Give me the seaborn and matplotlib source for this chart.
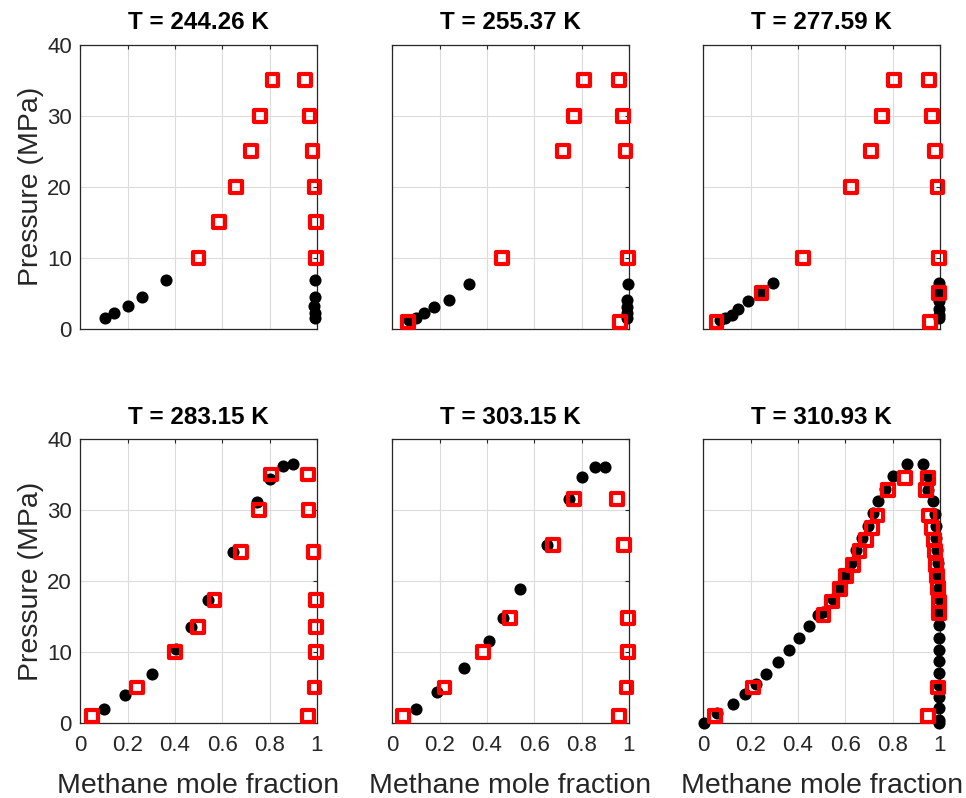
import numpy as np
import pandas as pd
import matplotlib
matplotlib.use("Agg")
import matplotlib.pyplot as plt
import seaborn as sns

# temperatures (K) of the six panels
temps = ["244.26", "255.37", "277.59", "283.15", "303.15", "310.93"]

# black circles (x = methane mole fraction, p = pressure MPa)
c1_x = [0.106, 0.141, 0.204, 0.263, 0.363, 0.993, 0.993, 0.986, 0.993, 0.993]
c1_p = [1.55, 2.25, 3.2, 4.46, 6.85, 6.85, 4.46, 3.2, 2.25, 1.55]
c2_x = [0.070, 0.099, 0.134, 0.176, 0.239, 0.324, 0.995, 0.993, 0.993, 0.993, 0.993]
c2_p = [1.2, 1.55, 2.25, 3.0, 4.1, 6.3, 6.3, 4.1, 3.0, 2.25, 1.55]
c3_x = [0.070, 0.092, 0.120, 0.148, 0.190, 0.246, 0.293, 0.997, 0.997, 0.997, 0.997, 0.997, 0.997]
c3_p = [1.2, 1.55, 2.0, 2.8, 3.9, 5.0, 6.5, 6.5, 5.0, 3.9, 2.8, 2.0, 1.55]
c4_x = [0.099, 0.190, 0.303, 0.406, 0.469, 0.538, 0.645, 0.746, 0.803, 0.859, 0.899]
c4_p = [1.9, 4.0, 6.9, 10.4, 13.5, 17.3, 24.1, 31.1, 34.3, 36.2, 36.4]
c5_x = [0.101, 0.190, 0.303, 0.408, 0.469, 0.542, 0.652, 0.746, 0.804, 0.859, 0.901]
c5_p = [2.0, 4.3, 7.7, 11.6, 14.8, 18.8, 25.1, 31.5, 34.7, 36.1, 36.1]
c6_x = [0.003, 0.056, 0.124, 0.176, 0.222, 0.267, 0.316, 0.361, 0.403, 0.446, 0.485,
        0.505, 0.550, 0.575, 0.599, 0.623, 0.646, 0.669, 0.695, 0.719, 0.740, 0.768,
        0.800, 0.862, 0.930,
        0.951, 0.951, 0.972, 0.979, 0.982, 0.985, 0.988, 0.991, 0.993, 0.995, 0.996,
        0.997, 0.997, 0.997, 0.996, 0.996, 0.996, 0.996, 0.996, 0.996, 0.997, 0.997]
c6_p = [0.0, 1.4, 2.7, 4.1, 5.5, 6.9, 8.6, 10.3, 12.0, 13.6, 15.2,
        15.6, 17.4, 19.0, 20.7, 22.5, 24.4, 26.1, 27.7, 29.6, 31.2, 32.9,
        34.8, 36.4, 36.4,
        34.8, 32.8, 31.2, 29.4, 27.7, 26.1, 24.4, 22.5, 20.7, 19.0, 17.4,
        15.6, 13.8, 12.0, 10.3, 8.7, 7.0, 5.4, 3.7, 2.1, 0.4, 0.0]

# red squares
s1_x = [0.500, 0.587, 0.658, 0.721, 0.761, 0.813, 0.951, 0.969, 0.982, 0.990, 0.996, 0.997]
s1_p = [10, 15, 20, 25, 30, 35, 35, 30, 25, 20, 15, 10]
s2_x = [0.066, 0.465, 0.723, 0.768, 0.811, 0.958, 0.976, 0.986, 0.996, 0.962]
s2_p = [1, 10, 25, 30, 35, 35, 30, 25, 10, 1]
s3_x = [0.056, 0.246, 0.420, 0.624, 0.708, 0.754, 0.807, 0.955, 0.966, 0.980, 0.990, 0.996, 0.996, 0.958]
s3_p = [1, 5, 10, 20, 25, 30, 35, 35, 30, 25, 20, 10, 5, 1]
s4_x = [0.049, 0.239, 0.401, 0.497, 0.568, 0.680, 0.754, 0.807,
        0.962, 0.965, 0.986, 0.996, 0.997, 0.997, 0.990, 0.962]
s4_p = [1, 5, 10, 13.5, 17.3, 24.1, 30, 35, 35, 30, 24.1, 17.3, 13.5, 10, 5, 1]
s5_x = [0.045, 0.221, 0.383, 0.497, 0.680, 0.768, 0.951, 0.980, 0.996, 0.996, 0.990, 0.958]
s5_p = [1, 5, 10, 14.8, 25.1, 31.5, 31.5, 25.1, 14.8, 10, 5, 1]
s6_x = [0.049, 0.211, 0.508, 0.543, 0.578, 0.603, 0.634, 0.660, 0.688, 0.712, 0.736, 0.782, 0.852,
        0.951, 0.941, 0.955, 0.965, 0.975, 0.979, 0.983, 0.989, 0.993, 0.996, 0.997, 0.993, 0.951]
s6_p = [1.0, 5.0, 15.2, 17.1, 18.9, 20.7, 22.3, 24.2, 25.8, 27.5, 29.2, 32.8, 34.5,
        34.5, 32.8, 29.2, 27.5, 25.8, 24.2, 22.3, 20.7, 19.0, 17.1, 15.5, 5.0, 1.0]

circles = [(c1_x, c1_p), (c2_x, c2_p), (c3_x, c3_p), (c4_x, c4_p), (c5_x, c5_p), (c6_x, c6_p)]
squares = [(s1_x, s1_p), (s2_x, s2_p), (s3_x, s3_p), (s4_x, s4_p), (s5_x, s5_p), (s6_x, s6_p)]

x_ticks = [0, 0.2, 0.4, 0.6, 0.8, 1]
x_ticklabels = ["0", "0.2", "0.4", "0.6", "0.8", "1"]
y_ticks = [0, 10, 20, 30, 40]

sns.set_style("white")
plt.rcParams['font.family'] = ['Liberation Sans', 'DejaVu Sans']

fig = plt.figure(figsize=(9.66, 7.98), dpi=100)

lefts = [0.083, 0.406, 0.728]
bottoms = [0.588, 0.094]
w, h = 0.245, 0.356

axis_col = "#262626"

for i in range(6):
    row, col = divmod(i, 3)
    ax = fig.add_axes([lefts[col], bottoms[row], w, h])

    cx, cp = circles[i]
    sx, sp = squares[i]
    dc = pd.DataFrame({"x": cx, "p": cp})
    ds = pd.DataFrame({"x": sx, "p": sp})

    sns.scatterplot(data=dc, x="x", y="p", ax=ax, marker="o", color="black",
                    s=76, linewidth=0, zorder=3, clip_on=False)
    sns.scatterplot(data=ds, x="x", y="p", ax=ax, marker="s", fc="none", ec="red",
                    s=72, linewidth=3.0, zorder=4, clip_on=False)

    ax.set_xlim(0, 1)
    ax.set_ylim(0, 40)
    ax.set_xticks(x_ticks)
    ax.set_yticks(y_ticks)
    ax.grid(True, color="#dcdcdc", linewidth=0.8)
    ax.set_axisbelow(True)
    ax.tick_params(direction="in", length=3, width=0.8, top=True, right=True,
                   colors=axis_col, labelsize=16)
    ax.tick_params(axis="x", pad=9)
    ax.tick_params(axis="y", pad=6)
    for sp_ in ax.spines.values():
        sp_.set_color(axis_col)
        sp_.set_linewidth(0.9)

    if row == 1:
        ax.set_xticklabels(x_ticklabels)
        ax.set_xlabel("Methane mole fraction", fontsize=20.5, color=axis_col, labelpad=12)
    else:
        ax.set_xticklabels([])
        ax.set_xlabel("")
    if col == 0:
        ax.set_ylabel("Pressure (MPa)", fontsize=20.5, color=axis_col, labelpad=2)
    else:
        ax.set_yticklabels([])
        ax.set_ylabel("")

    ax.set_title("T = " + temps[i] + " K", fontsize=17.5, fontweight="bold", color="black", pad=11)

fig.savefig("out.png", dpi=100, facecolor="white")
